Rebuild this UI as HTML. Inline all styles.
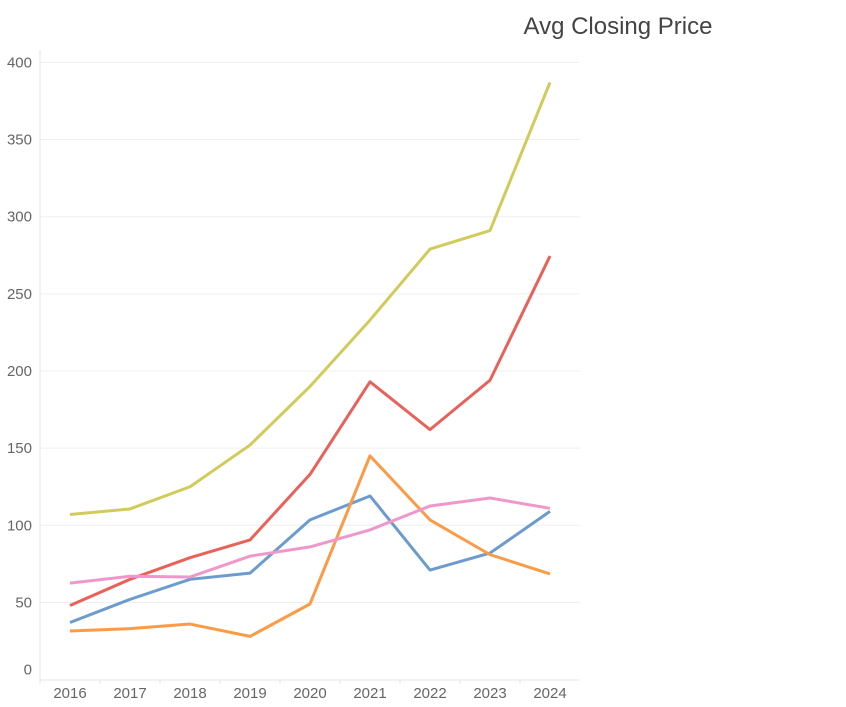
<!DOCTYPE html>
<html><head><meta charset="utf-8"><style>
body{margin:0;background:#fff;width:846px;height:702px;overflow:hidden}
svg{font-family:"Liberation Sans",sans-serif}
</style></head><body>
<svg width="846" height="702">
<text x="618" y="34" text-anchor="middle" font-size="24" fill="#444">Avg Closing Price</text>
<g id="grid"></g><g id="lines"></g>
</svg>
<script>
const years=[2016,2017,2018,2019,2020,2021,2022,2023,2024];
const yTicks=[0,50,100,150,200,250,300,350,400];
const seriesYellow=[107,110.6,125,152,190,233,279,291,387];
const seriesRed=[48,65,79,90.5,133,193,162,194,274.5];
const seriesBlue=[37,52,65,69,103.5,119,71,82,109];
const seriesOrange=[31.5,33,36,28,49,145,103.5,81,68.5];
const seriesPink=[62.5,67,66.5,80,86,97,112.5,117.7,111];
const ns="http://www.w3.org/2000/svg";
const x=i=>70+i*60;
const y=v=>679.6-1.543*v;
const g=document.getElementById('grid'),L=document.getElementById('lines');
function mk(tag,a,p){const e=document.createElementNS(ns,tag);for(const k in a)e.setAttribute(k,a[k]);p.appendChild(e);return e;}
yTicks.forEach(t=>{
 if(t>0){const gl=mk('line',{x1:40,x2:580,y1:y(t),y2:y(t),stroke:'#efefef','stroke-width':1},g);
 
 }
 const tx=mk('text',{x:32,y:(t===0?y(t)-5:y(t)+5),'text-anchor':'end','font-size':15,fill:'#666'},g);tx.textContent=t;
 
 
});
const ax=mk('line',{x1:40,x2:40,y1:50,y2:680,stroke:'#e6e6e6'},g);


const bx=mk('line',{x1:40,x2:580,y1:680,y2:680,stroke:'#e6e6e6'},g);


years.forEach((yr,i)=>{
 const tk=mk('line',{x1:x(i)-30,x2:x(i)-30,y1:680,y2:684,stroke:'#e6e6e6'},g);
 
 
 const tx=mk('text',{x:x(i),y:698,'text-anchor':'middle','font-size':15,fill:'#666'},g);tx.textContent=yr;
 
 
});
[[seriesYellow,'#d1cb5b','yellow'],[seriesRed,'#e8625a','red'],[seriesBlue,'#6c9bcd','blue'],[seriesOrange,'#fb9b46','orange'],[seriesPink,'#ef97cb','pink']].forEach(([d,c,n])=>{
 const p=mk('polyline',{points:d.map((v,i)=>x(i)+','+y(v)).join(' '),fill:'none',stroke:c,'stroke-width':3,'stroke-linejoin':'round'},L);
 
 
});
</script>
</body></html>
